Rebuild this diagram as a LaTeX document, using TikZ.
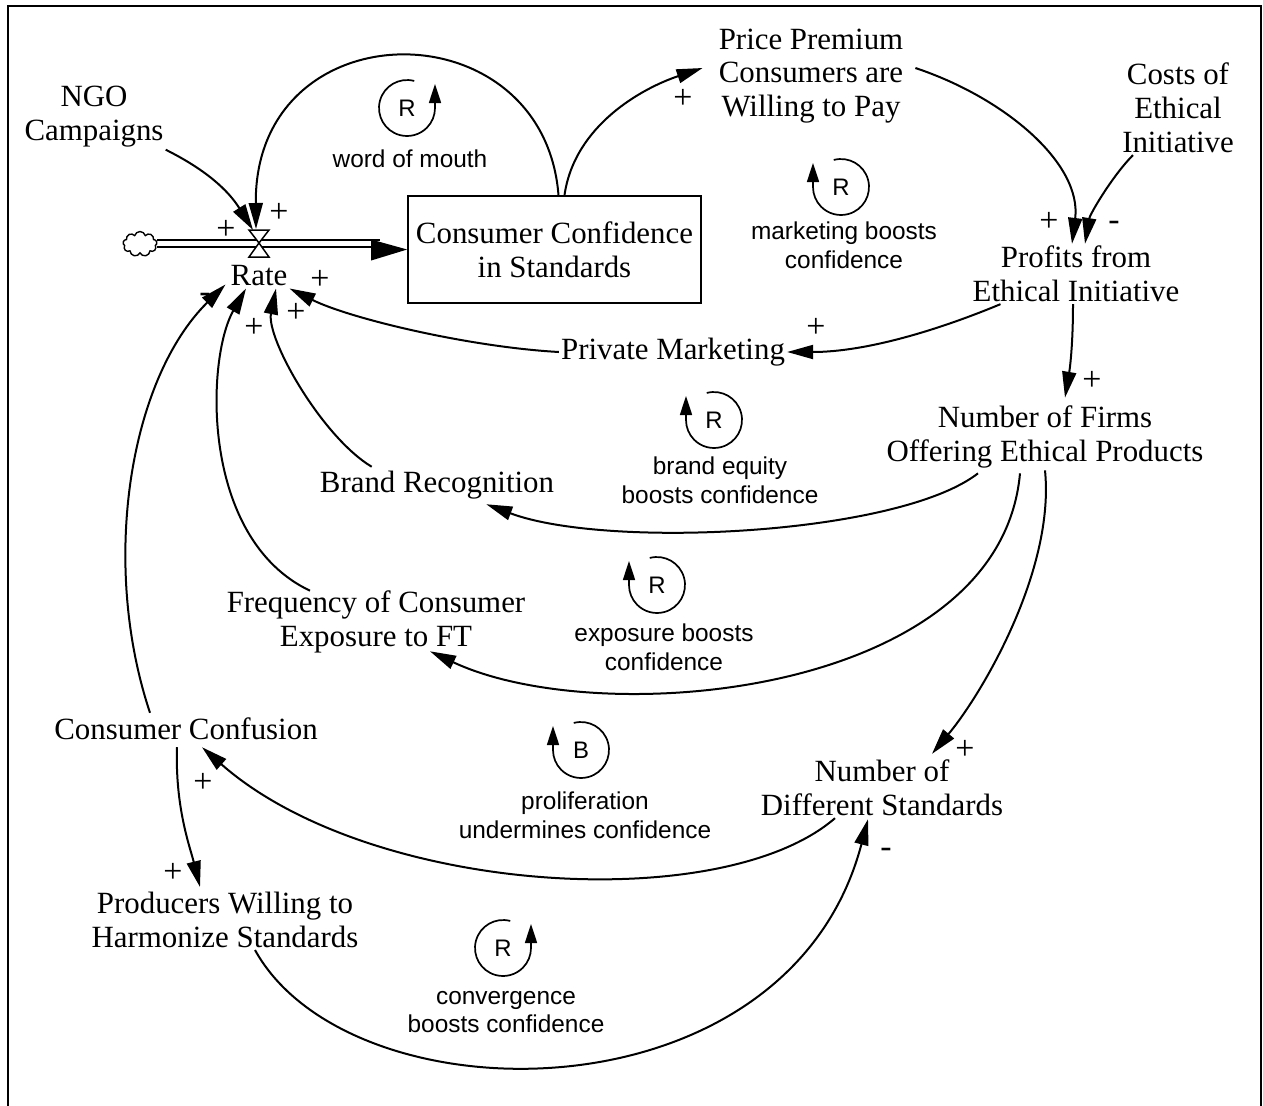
\documentclass[tikz,border=0pt]{standalone}
\usepackage{fontspec}
\setmainfont{Liberation Serif}
\newfontfamily\loopfont{Liberation Sans}
\usetikzlibrary{arrows.meta,shapes.symbols}
\begin{document}
\begin{tikzpicture}[x=1bp,y=-1bp,
  var/.style={font=\fontsize{31}{34}\selectfont, align=center, inner sep=2bp},
  link/.style={line width=2bp, -{Triangle[length=26bp,width=14bp]}},
  pol/.style={font=\fontsize{34}{34}\selectfont, inner sep=0bp},
  looplab/.style={font=\loopfont\fontsize{24.5}{29}\selectfont, align=center, inner sep=0bp},
  loopletter/.style={font=\loopfont\fontsize{24}{24}\selectfont, inner sep=0bp},
  loopline/.style={line width=1.7bp, -{Triangle[length=19bp,width=12bp]}},
  frame/.style={line width=2bp}
]
\useasboundingbox (0,0) rectangle (1263,1106);
% frame
\draw[frame] (8,1106) -- (8,6) -- (1261,6) -- (1261,1106);

% variables
\node[var] (ngo) at (94,117) {NGO\\Campaigns};
\node[var] (rate) at (259,276) {Rate};
\node[var, draw, line width=1.7bp, minimum width=293bp, minimum height=107bp] (stock) at (554.5,249.5) {Consumer Confidence\\in Standards};
\node[var] (price) at (811,76) {Price Premium\\Consumers are\\Willing to Pay};
\node[var] (costs) at (1178,108) {Costs of\\Ethical\\Initiative};
\node[var] (profits) at (1076,274) {Profits from\\Ethical Initiative};
\node[var] (priv) at (673,352) {Private Marketing};
\node[var] (firms) at (1045,437) {Number of Firms\\Offering Ethical Products};
\node[var] (brand) at (437,485) {Brand Recognition};
\node[var] (freq) at (376,622) {Frequency of Consumer\\Exposure to FT};
\node[var] (confusion) at (186,729) {Consumer Confusion};
\node[var] (diffstd) at (882,788) {Number of\\Different Standards};
\node[var] (producers) at (225,920) {Producers Willing to\\Harmonize Standards};

% flow
\node[cloud, cloud puffs=9, draw, line width=1.4bp, minimum width=34bp, minimum height=25bp, inner sep=0bp] (cloud) at (140,244) {};
\coordinate (valve) at (259,243);
\draw[line width=1.6bp] (cloud.east |- 0,240) -- (380,240);
\draw[line width=1.6bp] (cloud.east |- 0,247) -- (380,247);
\fill ([shift={(-36,-10)}]stock.west) -- (stock.west) -- ([shift={(-36,11)}]stock.west) -- cycle;
\draw[line width=1.5bp, fill=white] ([shift={(-10,-13)}]valve) -- ([shift={(10,-13)}]valve) -- (valve) -- cycle;
\draw[line width=1.5bp, fill=white] (valve) -- ([shift={(-10,14)}]valve) -- ([shift={(10,14)}]valve) -- cycle;

% connectors
\draw[link] (ngo.south east) .. controls +(40,20) and +(-25,-40) .. ([shift={(-6,-13)}]valve);
\draw[link] ([shift={(4,0)}]stock.north) .. controls +(-15,-190) and +(-2,-222) .. ([shift={(-3,-14)}]valve);
\draw[link] ([shift={(10,0)}]stock.north) .. controls +(10,-70) and +(-60,20) .. ([shift={(-14,-8)}]price.west);
\draw[link] ([shift={(10,-8)}]price.east) .. controls +(90,30) and +(10,-80) .. ([shift={(-4,0)}]profits.north);
\draw[link] ([shift={(-45,0)}]costs.south) .. controls +(-20,20) and +(5,-30) .. ([shift={(9,0)}]profits.north);
\draw[link] ([shift={(30,0)}]profits.south west) .. controls +(-60,25) and +(80,0) .. (priv.east);
\draw[link] (priv.west) .. controls +(-90,-5) and +(60,30) .. (rate.south east);
\draw[link] ([shift={(-3,0)}]profits.south) .. controls +(0,40) and +(5,-30) .. ([shift={(20,-6)}]firms.north);
\draw[link] ([shift={(-67,3)}]firms.south) .. controls +(-80,62) and +(120,45) .. ([shift={(-70,3)}]brand.south east);
\draw[link] ([shift={(54,-2)}]brand.north west) .. controls +(-50,-30) and +(-10,50) .. ([shift={(17,0)}]rate.south);
\draw[link] ([shift={(-25,3)}]firms.south) .. controls +(-20,223) and +(170,80) .. ([shift={(54,-4)}]freq.south);
\draw[link] ([shift={(-66,2)}]freq.north) .. controls +(-110,-52) and +(-40,70) .. ([shift={(-13,0)}]rate.south);
\draw[link] (firms.south) .. controls +(10,100) and +(50,-60) .. ([shift={(50,-4)}]diffstd.north);
\draw[link] ([shift={(-47,0)}]diffstd.south) .. controls +(-113,98) and +(168,148) .. ([shift={(16,5)}]confusion.south);
\draw[link] ([shift={(-36,-3)}]confusion.north) .. controls +(-50,-150) and +(-96,95) .. ([shift={(-3,-4)}]rate.south west);
\draw[link] ([shift={(-9,5)}]confusion.south) .. controls +(-2,60) and +(-10,-40) .. ([shift={(-25,-3)}]producers.north);
\draw[link] ([shift={(30,0)}]producers.south) .. controls +(95,172) and +(-80,305) .. ([shift={(-14,1)}]diffstd.south);

% polarities
\node[pol] (p1) at (226,230) {+};
\node[pol] (p2) at (279,213) {+};
\node[pol] (p3) at (683,99) {+};
\node[pol] (p4) at (1049,222) {+};
\node[pol] (p5) at (1114,226) {-};
\node[pol] (p6) at (816,328) {+};
\node[pol] (p7) at (320,280) {+};
\node[pol] (p8) at (1092,381) {+};
\node[pol] (p9) at (296,313) {+};
\node[pol] (p10) at (254,328) {+};
\node[pol] (p11) at (205,298) {-};
\node[pol] (p12) at (965,750) {+};
\node[pol] (p13) at (203,783) {+};
\node[pol] (p14) at (173,873) {+};
\node[pol] (p15) at (886,853) {-};

% loop symbols
% word of mouth (arrow right)
\coordinate (L1) at (407,108);
\draw[loopline] (L1) ++(75:28bp) arc[start angle=75, end angle=360, radius=28bp] -- ++(0bp,24bp);
\node[loopletter] (L1t) at (L1) {R};
\node[looplab] (L1l) at (410,159) {word of mouth};
% marketing (arrow left)
\coordinate (L2) at (841,187);
\draw[loopline] (L2) ++(105:28bp) arc[start angle=105, end angle=-180, radius=28bp] -- ++(0bp,24bp);
\node[loopletter] (L2t) at (L2) {R};
\node[looplab] (L2l) at (844,245) {marketing boosts\\confidence};
% brand equity
\coordinate (L3) at (714,420);
\draw[loopline] (L3) ++(105:28bp) arc[start angle=105, end angle=-180, radius=28bp] -- ++(0bp,24bp);
\node[loopletter] (L3t) at (L3) {R};
\node[looplab] (L3l) at (720,480) {brand equity\\boosts confidence};
% exposure
\coordinate (L4) at (657,585);
\draw[loopline] (L4) ++(105:28bp) arc[start angle=105, end angle=-180, radius=28bp] -- ++(0bp,24bp);
\node[loopletter] (L4t) at (L4) {R};
\node[looplab] (L4l) at (664,647) {exposure boosts\\confidence};
% proliferation
\coordinate (L5) at (581,750);
\draw[loopline] (L5) ++(105:28bp) arc[start angle=105, end angle=-180, radius=28bp] -- ++(0bp,24bp);
\node[loopletter] (L5t) at (L5) {B};
\node[looplab] (L5l) at (585,815) {proliferation\\undermines confidence};
% convergence
\coordinate (L6) at (503,948);
\draw[loopline] (L6) ++(75:28bp) arc[start angle=75, end angle=360, radius=28bp] -- ++(0bp,24bp);
\node[loopletter] (L6t) at (L6) {R};
\node[looplab] (L6l) at (506,1012) {convergence\\boosts confidence};
\end{tikzpicture}
\end{document}
